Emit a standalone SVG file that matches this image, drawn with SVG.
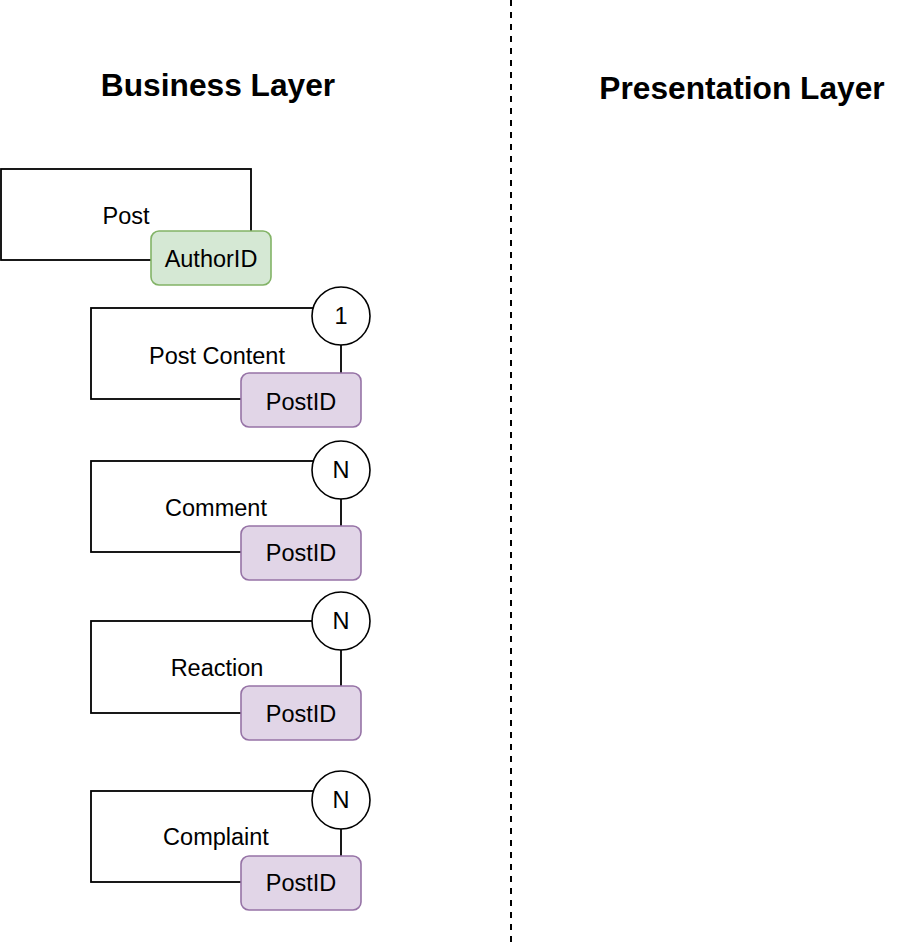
<svg xmlns="http://www.w3.org/2000/svg" width="912" height="944" viewBox="0 0 912 944">
<style>
.box{fill:#ffffff;stroke:#000000;stroke-width:1.8}
.fk{fill:#d5e8d4;stroke:#82b366;stroke-width:1.6}
.pk{fill:#e1d5e7;stroke:#9673a6;stroke-width:1.6}
.card{fill:#ffffff;stroke:#000000;stroke-width:1.6}
.lbl{font-family:"Liberation Sans",Arial,sans-serif;font-size:23.5px;fill:#000000;text-anchor:middle}
.title{font-family:"Liberation Sans",Arial,sans-serif;font-size:31.7px;font-weight:bold;fill:#000000;text-anchor:middle}
.div{stroke:#000000;stroke-width:2;stroke-dasharray:6 6;fill:none}
</style>
<rect width="912" height="944" fill="#ffffff"/>
<g id="connectors">
<line class="div" x1="511" y1="0" x2="511" y2="944"/>
</g>
<g id="title-business"><text class="title" x="218" y="96">Business Layer</text></g>
<g id="title-presentation"><text class="title" x="742" y="98.5">Presentation Layer</text></g>
<g id="post">
<rect class="box" x="1" y="169" width="250" height="91"/>
<text class="lbl" x="126" y="224">Post</text>
<rect class="fk" x="151" y="231" width="120" height="54" rx="8"/>
<text class="lbl" x="211" y="267">AuthorID</text>
</g>
<g id="post-content">
<rect class="box" x="91" y="308" width="250" height="91"/>
<text class="lbl" x="217" y="364">Post Content</text>
<circle class="card" cx="341" cy="316" r="29"/>
<text class="lbl" x="341" y="324">1</text>
<rect class="pk" x="241" y="373" width="120" height="54" rx="8"/>
<text class="lbl" x="301" y="410">PostID</text>
</g>
<g id="comment">
<rect class="box" x="91" y="461" width="250" height="91"/>
<text class="lbl" x="216" y="516">Comment</text>
<circle class="card" cx="341" cy="470" r="29"/>
<text class="lbl" x="341" y="478">N</text>
<rect class="pk" x="241" y="526" width="120" height="54" rx="8"/>
<text class="lbl" x="301" y="561">PostID</text>
</g>
<g id="reaction">
<rect class="box" x="91" y="621" width="250" height="92"/>
<text class="lbl" x="217" y="676">Reaction</text>
<circle class="card" cx="341" cy="621" r="29"/>
<text class="lbl" x="341" y="629">N</text>
<rect class="pk" x="241" y="686" width="120" height="54" rx="8"/>
<text class="lbl" x="301" y="721.5">PostID</text>
</g>
<g id="complaint">
<rect class="box" x="91" y="791" width="250" height="91"/>
<text class="lbl" x="216" y="845">Complaint</text>
<circle class="card" cx="341" cy="800" r="29"/>
<text class="lbl" x="341" y="808">N</text>
<rect class="pk" x="241" y="856" width="120" height="54" rx="8"/>
<text class="lbl" x="301" y="891">PostID</text>
</g>
</svg>
